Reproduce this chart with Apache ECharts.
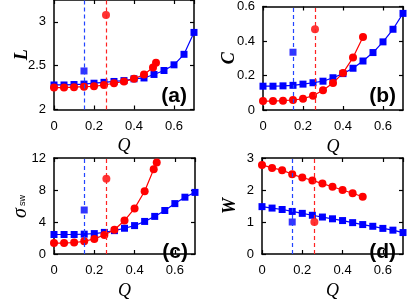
<!DOCTYPE html>
<html>
<head>
<meta charset="utf-8">
<script src="https://cdn.jsdelivr.net/npm/echarts@6/dist/echarts.min.js"></script>
<style>html,body{margin:0;padding:0;background:#fff;}#c{width:415px;height:301px;}</style>
</head>
<body>
<div id="c"></div>
<script>
// Q values
var qBlue = [0,0.05,0.1,0.15,0.2,0.25,0.3,0.35,0.4,0.45,0.5,0.55,0.6,0.65,0.7];
var qRed11 = [0,0.05,0.1,0.15,0.2,0.25,0.3,0.35,0.4,0.45,0.5];
var qRed12 = [0,0.05,0.1,0.15,0.2,0.25,0.3,0.35,0.4,0.45,0.495,0.51];
var qBlueCrit = 0.15;
var qRedCrit = 0.26;

// (a) L
var L_blue = [2.28,2.28,2.285,2.29,2.30,2.31,2.32,2.33,2.35,2.36,2.40,2.445,2.51,2.63,2.88];
var L_red = [2.25,2.25,2.255,2.26,2.265,2.28,2.30,2.32,2.35,2.40,2.48,2.535];
var L_isoBlue = 2.44, L_isoRed = 3.08;

// (b) C
var C_blue = [0.138,0.138,0.14,0.143,0.15,0.158,0.167,0.187,0.211,0.242,0.284,0.333,0.395,0.468,0.56];
var C_red = [0.052,0.052,0.054,0.058,0.065,0.083,0.114,0.156,0.215,0.304,0.423];
var C_isoBlue = 0.335, C_isoRed = 0.468;

// (c) sigma_sw
var S_blue = [2.44,2.44,2.44,2.48,2.55,2.70,2.92,3.22,3.55,4.07,4.70,5.44,6.30,7.10,7.70];
var S_red = [1.37,1.37,1.44,1.59,1.89,2.37,3.03,4.18,5.70,7.85,10.6,11.44];
var S_isoBlue = 5.5, S_isoRed = 9.4;

// (d) W
var W_blue = [1.48,1.435,1.39,1.33,1.27,1.21,1.155,1.10,1.045,0.98,0.92,0.866,0.80,0.745,0.67];
var W_red = [2.785,2.69,2.62,2.49,2.39,2.30,2.20,2.10,2.00,1.90,1.79];
var W_isoBlue = 1.0, W_isoRed = 1.0;

var xTicks = {min:0, max:0.7, interval:0.2};
var panelLabels = ['(a)','(b)','(c)','(d)'];
var yNames = ['L','C','','W'];

var RED = '#ff0000', BLUE = '#0000ff';
var grids = [
  {left:54, top:0, width:140, height:109.5},
  {left:263, top:0, width:140, height:110},
  {left:54, top:158, width:141, height:108},
  {left:262, top:158, width:141, height:108}
];
var yCfg = [
  {min:2, max:3.25, interval:0.5, gap:23},
  {min:0, max:0.6, interval:0.2, gap:25},
  {min:0, max:12, interval:4, gap:23},
  {min:0, max:3, interval:1, gap:23}
];
var panels = [
  {red:L_red, qr:qRed12, blue:L_blue, ib:L_isoBlue, ir:L_isoRed},
  {red:C_red, qr:qRed11, blue:C_blue, ib:C_isoBlue, ir:C_isoRed},
  {red:S_red, qr:qRed12, blue:S_blue, ib:S_isoBlue, ir:S_isoRed},
  {red:W_red, qr:qRed11, blue:W_blue, ib:W_isoBlue, ir:W_isoRed}
];

function pairs(xs, ys){ return ys.map(function(v,i){return [xs[i], v];}); }

var labelFont = {color:'#000', fontSize:13, fontFamily:'Liberation Sans, Arial, sans-serif'};
var xAxes = [], yAxes = [], series = [], graphics = [];
var frameLine = {show:true, onZero:false, lineStyle:{color:'#000', width:1.5}};
var tickIn = {show:true, inside:true, length:4, lineStyle:{color:'#000', width:1.2}};

grids.forEach(function(g, p){
  xAxes.push({
    gridIndex:p, type:'value', position:'bottom', min:xTicks.min, max:xTicks.max, interval:xTicks.interval,
    axisLine:frameLine, axisTick:tickIn, splitLine:{show:false},
    axisLabel:Object.assign({margin:10, showMaxLabel:false}, labelFont),
    name:'Q', nameLocation:'middle', nameGap:28, nameMoveOverlap:false,
    nameTextStyle:{fontFamily:'Liberation Serif, Times New Roman, serif', fontStyle:'italic', fontSize:18, color:'#000'}
  });
  xAxes.push({
    gridIndex:p, type:'value', position:'top', min:xTicks.min, max:xTicks.max, interval:xTicks.interval,
    axisLine:frameLine, axisTick:tickIn, splitLine:{show:false}, axisLabel:{show:false}
  });
  var yc = yCfg[p];
  yAxes.push({
    gridIndex:p, type:'value', position:'left', min:yc.min, max:yc.max, interval:yc.interval,
    axisLine:frameLine, axisTick:tickIn, splitLine:{show:false},
    axisLabel:Object.assign({margin:8, showMaxLabel: p===0 ? false : true}, labelFont),
    name:yNames[p], nameLocation:'middle', nameRotate:90, nameGap:yc.gap, nameMoveOverlap:false,
    nameTextStyle:{fontFamily:'Liberation Serif, Times New Roman, serif', fontStyle:'italic', fontWeight:'bold', fontSize:18, color:'#000'}
  });
  yAxes.push({
    gridIndex:p, type:'value', position:'right', min:yc.min, max:yc.max, interval:yc.interval,
    axisLine:frameLine, axisTick:tickIn, splitLine:{show:false}, axisLabel:{show:false}
  });
  var pd = panels[p];
  var xi = 2*p, yi = 2*p;
  series.push({
    type:'line', xAxisIndex:xi, yAxisIndex:yi, data:pairs(qBlue, pd.blue),
    symbol:'rect', symbolSize:7, lineStyle:{color:BLUE, width:1.2}, itemStyle:{color:BLUE}, z:3, animation:false
  });
  series.push({
    type:'line', xAxisIndex:xi, yAxisIndex:yi, data:pairs(pd.qr, pd.red),
    symbol:'circle', symbolSize:8, lineStyle:{color:RED, width:1.2}, itemStyle:{color:RED}, z:4, animation:false
  });
  series.push({
    type:'scatter', xAxisIndex:xi, yAxisIndex:yi, data:[[qBlueCrit, pd.ib]],
    symbol:'rect', symbolSize:7, itemStyle:{color:BLUE}, z:3, animation:false,
    markLine:{silent:true, symbol:'none', label:{show:false}, animation:false,
      lineStyle:{color:'#2244ff', width:1.2, type:[4,3]}, data:[{xAxis:qBlueCrit}]}
  });
  series.push({
    type:'scatter', xAxisIndex:xi, yAxisIndex:yi, data:[[qRedCrit, pd.ir]],
    symbol:'circle', symbolSize:8, itemStyle:{color:RED}, z:4, animation:false,
    markLine:{silent:true, symbol:'none', label:{show:false}, animation:false,
      lineStyle:{color:'#ff2222', width:1.2, type:[4,3]}, data:[{xAxis:qRedCrit}]}
  });
  graphics.push({
    type:'text', x:g.left + g.width - 7, y:g.top + g.height - 3, z:10,
    style:{text:panelLabels[p], fill:'#000', font:'bold 21px Liberation Sans, Arial, sans-serif', align:'right', verticalAlign:'bottom'}
  });
});

// sigma_sw axis title, drawn as rotated text with a subscript
graphics.push({
  type:'group', x:21, y:213, rotation:Math.PI/2, z:10,
  children:[
    {type:'text', x:0, y:0, style:{text:'σ', fill:'#000', font:'italic 20px Liberation Serif, serif', align:'center', verticalAlign:'middle'}},
    {type:'text', x:7, y:2, style:{text:'sw', fill:'#000', font:'9px Liberation Sans, sans-serif', align:'left', verticalAlign:'middle'}}
  ]
});

var chart = echarts.init(document.getElementById('c'), null, {renderer:'canvas'});
chart.setOption({
  animation:false,
  backgroundColor:'#fff',
  grid:grids.map(function(g){return Object.assign({containLabel:false}, g);}),
  xAxis:xAxes, yAxis:yAxes, series:series, graphic:graphics
});
</script>
</body>
</html>
